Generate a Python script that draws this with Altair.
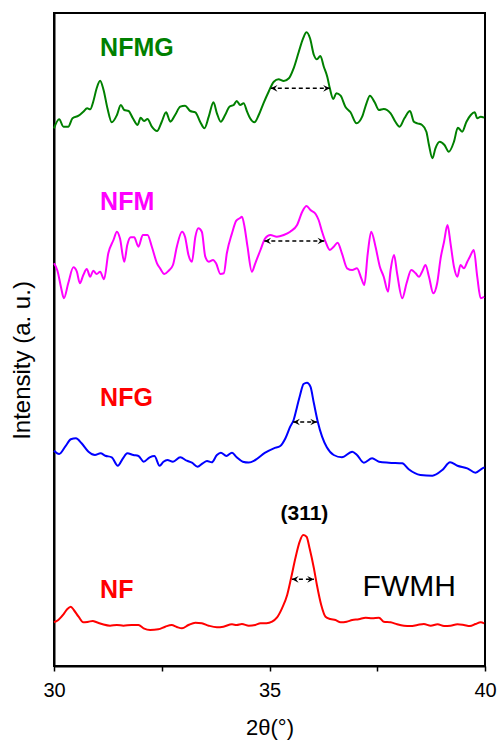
import altair as alt
import pandas as pd

# ---------------- data (2theta in degrees, intensity in arbitrary units) -------------
nfmg_theta = [30.00, 30.12, 30.22, 30.33, 30.43, 30.57, 30.68, 30.77, 30.84, 30.91, 30.99, 31.07, 31.15, 31.24,
              31.34, 31.46, 31.55, 31.63, 31.73, 31.83, 31.94, 32.01, 32.09, 32.17, 32.27, 32.39, 32.50, 32.60,
              32.70, 32.81, 32.93, 33.04, 33.16, 33.28, 33.39, 33.49, 33.59, 33.70, 33.78, 33.87, 33.97, 34.07,
              34.17, 34.24, 34.32, 34.40, 34.48, 34.55, 34.65, 34.75, 34.86, 34.98, 35.10, 35.21, 35.33, 35.45,
              35.56, 35.68, 35.78, 35.86, 35.94, 36.03, 36.10, 36.18, 36.26, 36.34, 36.40, 36.48, 36.55, 36.65,
              36.76, 36.88, 37.02, 37.15, 37.25, 37.33, 37.44, 37.54, 37.65, 37.81, 37.92, 38.02, 38.13, 38.26,
              38.35, 38.43, 38.54, 38.64, 38.70, 38.78, 38.85, 38.95, 39.06, 39.16, 39.28, 39.37, 39.47, 39.57,
              39.67, 39.76, 39.82, 39.90, 39.98]
nfmg_int = [537.7, 546.7, 539.3, 539.3, 547.7, 550.3, 554.3, 557.7, 556.7, 564.3, 577.7, 585.3, 576.0, 557.7,
            543.7, 551.0, 561.0, 556.0, 555.0, 547.7, 541.0, 548.3, 545.0, 547.0, 539.3, 535.0, 544.3, 553.7,
            544.3, 551.0, 559.3, 560.3, 555.0, 553.7, 544.3, 537.7, 549.3, 563.7, 552.7, 544.3, 551.0, 559.3,
            561.0, 565.0, 561.0, 562.7, 554.3, 547.7, 543.7, 551.0, 562.7, 574.3, 584.3, 586.7, 585.0, 587.7,
            597.7, 614.3, 627.7, 633.7, 627.7, 611.0, 606.7, 610.0, 599.3, 589.3, 577.7, 567.0, 572.7, 570.3,
            559.3, 553.7, 542.7, 549.3, 562.7, 570.3, 563.7, 556.0, 557.0, 552.7, 544.3, 539.3, 547.7, 555.0,
            544.3, 542.7, 541.0, 534.3, 521.0, 507.7, 517.7, 524.3, 521.0, 514.3, 524.3, 538.3, 534.3, 544.3,
            551.0, 553.7, 547.7, 549.3, 548.3]

nfm_theta = [30.00, 30.08, 30.16, 30.23, 30.33, 30.45, 30.53, 30.60, 30.68, 30.76, 30.84, 30.91, 30.99, 31.07,
             31.16, 31.26, 31.38, 31.46, 31.53, 31.63, 31.70, 31.78, 31.86, 31.96, 32.06, 32.17, 32.27, 32.39,
             32.46, 32.56, 32.66, 32.76, 32.85, 32.97, 33.04, 33.12, 33.20, 33.28, 33.35, 33.43, 33.51, 33.59,
             33.69, 33.76, 33.86, 33.94, 34.01, 34.13, 34.23, 34.31, 34.36, 34.42, 34.49, 34.59, 34.67, 34.79,
             34.90, 35.02, 35.17, 35.33, 35.48, 35.64, 35.76, 35.86, 35.95, 36.07, 36.14, 36.22, 36.30, 36.40,
             36.49, 36.58, 36.68, 36.80, 36.92, 37.03, 37.13, 37.20, 37.28, 37.36, 37.46, 37.56, 37.65, 37.75,
             37.81, 37.89, 37.96, 38.08, 38.18, 38.29, 38.39, 38.47, 38.54, 38.62, 38.70, 38.80, 38.89, 38.97,
             39.05, 39.13, 39.20, 39.28, 39.36, 39.43, 39.51, 39.59, 39.65, 39.74, 39.82, 39.90, 39.98]
nfm_int = [402.7, 395.3, 379.3, 367.7, 382.7, 398.7, 394.3, 382.7, 391.0, 397.0, 389.3, 395.3, 392.0, 394.3,
           386.7, 412.7, 426.0, 434.3, 427.7, 404.3, 421.0, 428.7, 428.7, 419.3, 431.0, 431.0, 419.3, 402.7,
           397.7, 392.0, 395.3, 401.0, 419.3, 434.3, 429.3, 411.0, 404.3, 429.3, 437.7, 434.3, 409.3, 404.3,
           406.0, 402.7, 392.0, 392.7, 412.7, 432.7, 445.3, 447.7, 449.3, 439.3, 419.3, 394.3, 402.7, 416.0,
           427.7, 431.0, 429.3, 431.0, 434.3, 441.0, 454.3, 460.0, 456.0, 452.0, 446.0, 434.3, 424.3, 416.0,
           419.3, 423.3, 412.7, 397.7, 396.0, 397.7, 387.7, 381.0, 412.7, 434.3, 419.3, 399.3, 389.3, 374.3,
           396.0, 411.0, 392.7, 367.7, 382.7, 396.0, 392.7, 389.3, 394.3, 401.0, 389.3, 372.7, 382.7, 407.7,
           424.3, 441.0, 422.7, 399.3, 389.3, 401.0, 397.7, 404.3, 409.3, 416.0, 389.3, 367.7, 369.3]

nfg_theta = [30.00, 30.12, 30.26, 30.39, 30.51, 30.64, 30.80, 30.95, 31.08, 31.19, 31.34, 31.48, 31.60, 31.70,
             31.84, 31.96, 32.08, 32.22, 32.33, 32.45, 32.54, 32.63, 32.76, 32.93, 33.08, 33.20, 33.33, 33.45,
             33.55, 33.66, 33.78, 33.87, 34.00, 34.13, 34.24, 34.38, 34.52, 34.67, 34.90, 35.10, 35.25, 35.37,
             35.48, 35.56, 35.64, 35.71, 35.79, 35.87, 35.95, 36.03, 36.12, 36.22, 36.33, 36.49, 36.68, 36.92,
             37.03, 37.19, 37.38, 37.54, 37.77, 38.08, 38.23, 38.50, 38.78, 39.01, 39.19, 39.36, 39.59, 39.78,
             39.94, 39.99]
nfg_int = [215.3, 212.0, 219.3, 226.7, 227.7, 222.7, 214.3, 211.0, 212.7, 210.3, 208.7, 200.3, 207.7, 212.7,
           211.0, 210.0, 204.3, 208.7, 210.0, 200.3, 204.3, 206.0, 204.3, 208.7, 205.3, 203.3, 199.3, 202.7,
           205.0, 203.7, 211.0, 213.3, 210.0, 213.3, 208.7, 204.3, 203.5, 206.0, 213.3, 217.7, 220.0, 227.7,
           239.3, 246.0, 259.3, 271.0, 282.0, 283.3, 279.3, 262.7, 244.3, 229.3, 218.7, 211.0, 208.7, 214.3,
           211.0, 203.3, 207.7, 204.3, 203.3, 202.7, 196.7, 191.0, 190.3, 196.0, 203.7, 200.3, 197.7, 193.3,
           197.7, 198.7]

nf_theta = [30.00, 30.10, 30.22, 30.31, 30.39, 30.46, 30.57, 30.68, 30.80, 30.90, 30.99, 31.13, 31.30, 31.46,
            31.61, 31.80, 31.96, 32.08, 32.23, 32.42, 32.58, 32.73, 32.85, 32.97, 33.12, 33.28, 33.43, 33.59,
            33.78, 33.93, 34.13, 34.24, 34.36, 34.52, 34.67, 34.79, 34.93, 35.06, 35.17, 35.29, 35.41, 35.50,
            35.60, 35.70, 35.78, 35.86, 35.93, 36.03, 36.10, 36.20, 36.30, 36.41, 36.53, 36.65, 36.79, 36.92,
            37.07, 37.23, 37.38, 37.54, 37.65, 37.81, 37.96, 38.12, 38.27, 38.43, 38.58, 38.74, 38.90, 39.05,
            39.20, 39.36, 39.51, 39.65, 39.78, 39.90, 39.98]
nf_int = [43.7, 46.0, 51.7, 57.0, 59.3, 56.0, 49.3, 43.7, 44.3, 45.0, 43.7, 41.7, 40.3, 41.0,
          40.3, 41.0, 41.0, 37.7, 36.0, 36.7, 39.3, 41.0, 39.0, 37.7, 41.0, 43.3, 42.7, 40.3,
          38.7, 39.3, 41.7, 41.0, 42.0, 40.3, 41.0, 42.7, 42.7, 44.3, 48.3, 57.7, 71.0, 87.7,
          107.7, 124.3, 131.0, 129.3, 117.7, 97.7, 81.0, 61.0, 49.3, 47.0, 46.0, 43.7, 44.3, 46.0,
          46.7, 48.3, 47.7, 48.3, 44.3, 43.7, 41.7, 40.3, 40.0, 41.0, 42.0, 40.3, 41.7, 40.0,
          40.3, 41.7, 41.0, 40.0, 42.0, 43.7, 42.7]

series_names = ["NFMG", "NFM", "NFG", "NF"]
series_colors = ["#008000", "#ff00ff", "#0000ff", "#ff0000"]

# FWHM arrows (left end, right end, level)
fwhm_left = [35.03, 34.88, 35.55, 35.52]
fwhm_right = [36.40, 36.27, 36.10, 36.03]
fwhm_level = [577.7, 425.0, 244.0, 86.7]

# sample labels
label_text = ["NFMG", "NFM", "NFG", "NF"]
label_theta = [31.07, 31.07, 31.07, 31.07]
label_int = [618, 464, 268, 76]
label_colors = ["#008000", "#ff00ff", "#ff0000", "#ff0000"]

peak_text = ["(311)"]
peak_theta = [35.81]
peak_int = [152]

fwmh_text = ["FWMH"]
fwmh_theta = [37.16]
fwmh_int = [79]

x_ticks = [30, 32.5, 35, 37.5, 40]

# ---------------- tables ----------------
rows = []
for name, th, iv in [("NFMG", nfmg_theta, nfmg_int), ("NFM", nfm_theta, nfm_int),
                     ("NFG", nfg_theta, nfg_int), ("NF", nf_theta, nf_int)]:
    for t, v in zip(th, iv):
        rows.append({"series": name, "theta": t, "intensity": v})
df = pd.DataFrame(rows)

arrows = pd.DataFrame({"x1": fwhm_left, "x2": fwhm_right, "y": fwhm_level})
labels = pd.DataFrame({"text": label_text, "theta": label_theta, "intensity": label_int})
peak = pd.DataFrame({"text": peak_text, "theta": peak_theta, "intensity": peak_int})
fw = pd.DataFrame({"text": fwmh_text, "theta": fwmh_theta, "intensity": fwmh_int})

FONT = "Liberation Sans"
xscale = alt.Scale(domain=[30, 40], nice=False, zero=False)
yscale = alt.Scale(domain=[0, 653], nice=False, zero=False)

X_TITLE = "2θ(°)"
Y_TITLE = "Intensity (a. u.)"
x_axis = alt.Axis(values=x_ticks, labelExpr="datum.value % 5 == 0 ? datum.label : ''",
                  title=X_TITLE, titleFontSize=22, titleFontWeight="normal", titleFont=FONT,
                  titlePadding=17, labelFontSize=20, labelFont=FONT, labelPadding=9,
                  tickSize=5, tickWidth=1.5, tickColor="black", domainColor="black", domainWidth=2,
                  grid=False, labelColor="black", titleColor="black", labelFlush=False)
y_axis = alt.Axis(ticks=False, labels=False, grid=False, domainColor="black", domainWidth=2,
                  title=Y_TITLE, titleFontSize=24, titleFontWeight="normal", titleFont=FONT,
                  titleColor="black", titleX=-20, titleY=347)


def X(field):
    return alt.X(field, type="quantitative", scale=xscale, axis=x_axis, title=X_TITLE)


def Y(field):
    return alt.Y(field, type="quantitative", scale=yscale, axis=y_axis, title=Y_TITLE)


lines = alt.Chart(df).mark_line(strokeWidth=2, interpolate="monotone").encode(
    x=X("theta"),
    y=Y("intensity"),
    color=alt.Color("series:N", scale=alt.Scale(domain=series_names, range=series_colors), legend=None),
    detail="series:N",
)

rule = alt.Chart(arrows).mark_rule(color="black", strokeWidth=1.5, strokeDash=[4, 3]).encode(
    x=X("x1"), x2="x2:Q", y=Y("y"),
)
left_head = alt.Chart(arrows).mark_point(
    shape="M0,0 L1.6,-0.8 L1.0,0 L1.6,0.8 Z", filled=True, color="black", size=70, opacity=1
).encode(x=X("x1"), y=Y("y"))
right_head = alt.Chart(arrows).mark_point(
    shape="M0,0 L-1.6,-0.8 L-1.0,0 L-1.6,0.8 Z", filled=True, color="black", size=70, opacity=1
).encode(x=X("x2"), y=Y("y"))

layers = [lines, rule, left_head, right_head]
for txt, col in zip(label_text, label_colors):
    layers.append(
        alt.Chart(labels).transform_filter(alt.datum.text == txt).mark_text(
            align="left", baseline="middle", fontSize=25, fontWeight="bold", font=FONT, color=col
        ).encode(x=X("theta"), y=Y("intensity"), text="text:N")
    )
layers.append(
    alt.Chart(peak).mark_text(align="center", baseline="middle", fontSize=21, fontWeight="bold",
                              font=FONT, color="black").encode(
        x=X("theta"), y=Y("intensity"), text="text:N")
)
layers.append(
    alt.Chart(fw).mark_text(align="left", baseline="middle", fontSize=30, font=FONT, color="black").encode(
        x=X("theta"), y=Y("intensity"), text="text:N")
)

chart = alt.layer(*layers).properties(
    width=431, height=653,
    autosize=alt.AutoSizeParams(type="none"),
    padding={"left": 54, "top": 13, "right": 12, "bottom": 75},
    background="white",
).configure_view(stroke="black", strokeWidth=2)

chart.save("out.html", embed_options={"renderer": "svg", "actions": False})
